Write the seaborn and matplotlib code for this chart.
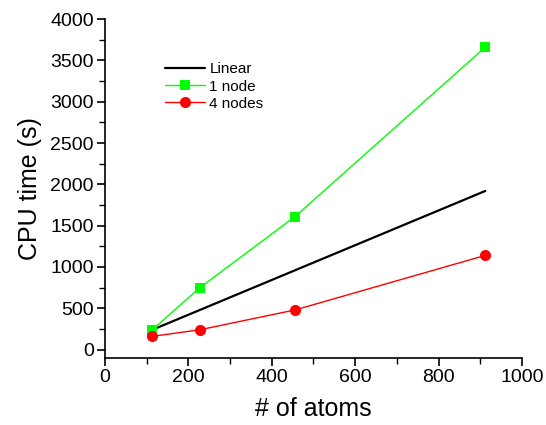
import numpy as np
import pandas as pd
import matplotlib
matplotlib.use('Agg')
import matplotlib.pyplot as plt
from matplotlib.ticker import MultipleLocator
import seaborn as sns

# Data
atoms = [114, 228, 456, 912]
one_node = [240, 750, 1610, 3660]
four_nodes = [160, 240, 480, 1140]
linear_atoms = [114, 912]
linear_time = [240, 1920]


def main():
    sns.set_theme(style='ticks')
    plt.rcParams['font.family'] = ['Liberation Sans', 'DejaVu Sans']

    fig = plt.figure(figsize=(5.46, 4.25), dpi=100)
    ax = fig.add_axes([0.192, 0.158, 0.764, 0.797])

    sns.lineplot(x=linear_atoms, y=linear_time, ax=ax, color='black',
                 linewidth=1.6, label='Linear')
    sns.lineplot(x=atoms, y=one_node, ax=ax, color='#00ff00', linewidth=1.0,
                 marker='s', markersize=7, markeredgewidth=0, label='1 node')
    sns.lineplot(x=atoms, y=four_nodes, ax=ax, color='#ff0000', linewidth=1.0,
                 marker='o', markersize=8, markeredgewidth=0, label='4 nodes')

    ax.set_xlim(0, 1000)
    ax.set_ylim(-100, 4000)
    ax.xaxis.set_major_locator(MultipleLocator(200))
    ax.xaxis.set_minor_locator(MultipleLocator(100))
    ax.yaxis.set_major_locator(MultipleLocator(500))
    ax.yaxis.set_minor_locator(MultipleLocator(250))
    ax.tick_params(which='major', direction='out', length=6, width=1.2,
                   labelsize=14, pad=2, color='black', labelcolor='black')
    ax.tick_params(which='minor', direction='out', length=4, width=1.0,
                   color='black')

    sns.despine(ax=ax)
    for side in ('left', 'bottom'):
        ax.spines[side].set_linewidth(1.2)
        ax.spines[side].set_color('black')

    ax.set_xlabel('# of atoms', fontsize=18, labelpad=8, color='black')
    ax.set_ylabel('CPU time (s)', fontsize=18, labelpad=6, color='black')

    ax.legend(loc='upper left', bbox_to_anchor=(0.13, 0.89), frameon=False,
              fontsize=11, handlelength=2.6, handletextpad=0.3,
              labelspacing=0.2, borderaxespad=0, labelcolor='black')

    fig.savefig('out.png', dpi=100)


if __name__ == '__main__':
    main()
